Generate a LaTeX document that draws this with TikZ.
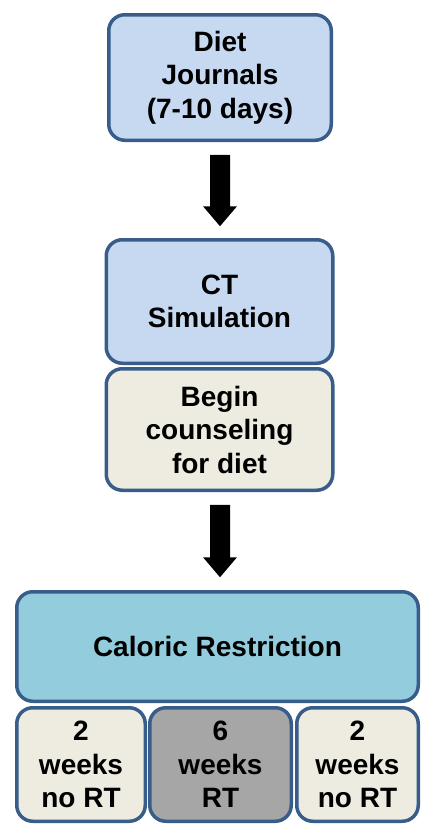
\documentclass[tikz,border=0pt]{standalone}
\usepackage{fontspec}
\setmainfont{Liberation Sans}
\usetikzlibrary{calc}
\definecolor{bluefill}{HTML}{C6D9F1}
\definecolor{edgeblue}{HTML}{385D8A}
\definecolor{beigefill}{HTML}{EEECE1}
\definecolor{tealfill}{HTML}{93CDDD}
\definecolor{greyfill}{HTML}{A6A6A6}
\tikzset{
  box/.style={draw=edgeblue, line width=3.5pt, rounded corners=16pt, inner sep=0pt,
    align=center, font=\fontsize{28}{33.5}\selectfont\bfseries, text=black},
  blockarrow/.style={fill=black}
}
\begin{document}
\begin{tikzpicture}[x=1pt,y=-1pt]
\useasboundingbox (0,0) rectangle (422,827);
\fill[white] (0,0) rectangle (422,827);
\node[box, fill=bluefill, minimum width=222.5pt, minimum height=125.5pt] (diet) at (220,77.5) {Diet\\Journals\\(7-10 days)};
\node[box, fill=bluefill, minimum width=226.5pt, minimum height=123.5pt] (ct) at (219.5,301.5) {CT\\Simulation};
\node[box, fill=beigefill, minimum width=226.5pt, minimum height=121.5pt] (begin) at (219.5,429.5) {Begin\\counseling\\for diet};
\node[box, fill=tealfill, minimum width=401.5pt, minimum height=109.5pt] (cal) at (217.5,646.5) {Caloric Restriction};
\node[box, fill=beigefill, minimum width=128.5pt, minimum height=113.5pt] (w1) at (81,764.5) {2\\weeks\\no RT};
\node[box, fill=greyfill, minimum width=141.5pt, minimum height=113.5pt] (w2) at (220.5,764.5) {6\\weeks\\RT};
\node[box, fill=beigefill, minimum width=121.5pt, minimum height=113.5pt] (w3) at (357.5,764.5) {2\\weeks\\no RT};
\coordinate (a1s) at ([yshift=-12.75pt]diet.south);
\coordinate (a1e) at ([yshift=11.75pt]a1s |- ct.north);
\coordinate (a2s) at ([xshift=0.5pt,yshift=-12.75pt]begin.south);
\coordinate (a2e) at ([yshift=12.75pt]a2s |- cal.north);
\fill[blockarrow] ($(a1s)+(-10,0)$) -- ($(a1e)+(-10,-20)$) -- ($(a1e)+(-17,-20)$) -- (a1e)
  -- ($(a1e)+(17,-20)$) -- ($(a1e)+(10,-20)$) -- ($(a1s)+(10,0)$) -- cycle;
\fill[blockarrow] ($(a2s)+(-10,0)$) -- ($(a2e)+(-10,-20)$) -- ($(a2e)+(-17,-20)$) -- (a2e)
  -- ($(a2e)+(17,-20)$) -- ($(a2e)+(10,-20)$) -- ($(a2s)+(10,0)$) -- cycle;
\end{tikzpicture}
\end{document}
